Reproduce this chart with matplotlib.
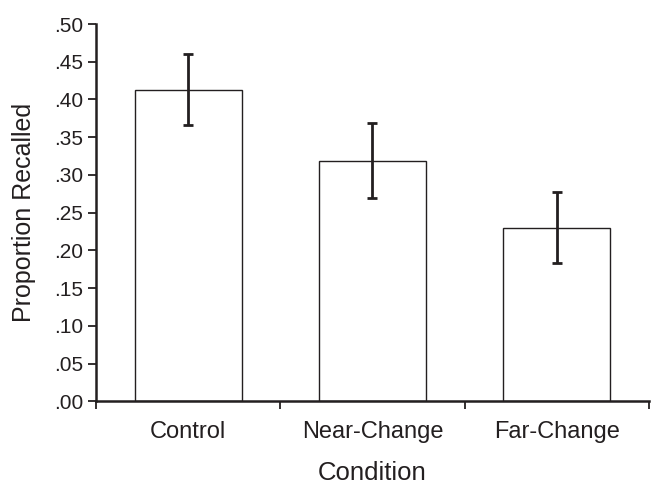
import numpy as np
import matplotlib
matplotlib.use("Agg")
import matplotlib.pyplot as plt
from matplotlib.ticker import FuncFormatter

plt.rcParams['font.family'] = ['Liberation Sans', 'DejaVu Sans']

# Data
conditions = ['Control', 'Near-Change', 'Far-Change']
proportion = [0.413, 0.319, 0.230]
errors = [0.047, 0.050, 0.047]

ink = '#231f20'

fig = plt.figure(figsize=(6.52, 4.86), dpi=100)
ax = fig.add_axes([0.1472, 0.174, 0.8482, 0.7766])

x = np.arange(len(conditions))
ax.bar(x, proportion, width=0.58, color='white', edgecolor=ink, linewidth=1.0, zorder=2)
ax.errorbar(x, proportion, yerr=errors, fmt='none', ecolor=ink, elinewidth=2.0,
            capsize=3.5, capthick=2.0, zorder=3)

ax.set_xlim(-0.5, 2.5)
ax.set_ylim(0, 0.5)

# y axis: .00 ... .50
ax.set_yticks(np.arange(0, 0.501, 0.05))
ax.yaxis.set_major_formatter(FuncFormatter(lambda v, p: ('%.2f' % v)[1:]))

# x axis: tick marks at category boundaries, labels at centres
ax.set_xticks(np.arange(-0.5, 2.6, 1.0))
ax.set_xticklabels([])
ax.set_xticks(x, minor=True)
ax.set_xticklabels(conditions, minor=True)
ax.tick_params(axis='x', which='minor', length=0, pad=14, labelsize=17, colors=ink)
ax.tick_params(axis='x', which='major', length=6, width=1.3, direction='out', colors=ink)
ax.tick_params(axis='y', length=6, width=1.3, direction='out', labelsize=15, pad=3, colors=ink)

for side in ['top', 'right']:
    ax.spines[side].set_visible(False)
for side in ['left', 'bottom']:
    ax.spines[side].set_linewidth(1.8)
    ax.spines[side].set_color(ink)

ax.set_xlabel('Condition', fontsize=18.5, color=ink, labelpad=13)
ax.set_ylabel('Proportion Recalled', fontsize=18, color=ink, labelpad=13)

fig.savefig('out.png', dpi=100)
